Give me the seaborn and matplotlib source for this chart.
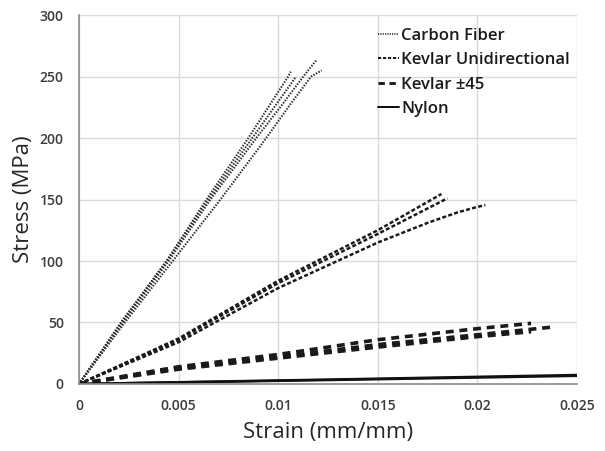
import numpy as np
import pandas as pd
import matplotlib
matplotlib.use("Agg")
import matplotlib.pyplot as plt
from matplotlib.lines import Line2D
import seaborn as sns

# Stress-strain curves (strain mm/mm, stress MPa)
carbon_a_strain = [0, 0.00214, 0.0044, 0.0064, 0.0085, 0.0095, 0.0105, 0.01063]
carbon_a_stress = [0, 50, 100, 150, 200, 225, 250, 254]
carbon_b_strain = [0, 0.0022, 0.0045, 0.0066, 0.0089, 0.0101, 0.01126, 0.0119]
carbon_b_stress = [0, 50, 100, 150, 200, 225, 250, 263]
carbon_c_strain = [0, 0.0023, 0.0047, 0.0071, 0.0094, 0.0105, 0.01165, 0.01218]
carbon_c_stress = [0, 50, 100, 150, 200, 225, 250, 255]
carbon_d_strain = [0, 0.0021, 0.0044, 0.0065, 0.0087, 0.0098, 0.0109]
carbon_d_stress = [0, 50, 100, 150, 200, 225, 250]

kevlar_ud_a_strain = [0, 0.005, 0.01, 0.015, 0.0182]
kevlar_ud_a_stress = [0, 37, 84, 125, 154.5]
kevlar_ud_b_strain = [0, 0.005, 0.01, 0.015, 0.0185]
kevlar_ud_b_stress = [0, 36, 82, 122, 151]
kevlar_ud_c_strain = [0, 0.005, 0.01, 0.015, 0.0175, 0.019, 0.02, 0.0204]
kevlar_ud_c_stress = [0, 34, 78, 115, 131, 139.5, 144, 145.5]

kevlar_45_a_strain = [0, 0.005, 0.01, 0.015, 0.02, 0.0227]
kevlar_45_a_stress = [0, 14, 24, 36, 45, 49.3]
kevlar_45_b_strain = [0, 0.005, 0.01, 0.015, 0.02, 0.0239]
kevlar_45_b_stress = [0, 13, 22, 32, 40, 46.5]
kevlar_45_c_strain = [0, 0.005, 0.01, 0.015, 0.02, 0.0227]
kevlar_45_c_stress = [0, 12, 21, 30, 38.5, 42.5]

nylon_a_strain = [0, 0.0136, 0.026]
nylon_a_stress = [0, 3.9, 7.6]
nylon_b_strain = [0, 0.0136, 0.026]
nylon_b_stress = [0, 3.5, 6.9]

materials = ["Carbon Fiber", "Kevlar Unidirectional", "Kevlar \u00b145", "Nylon"]

curves = [
    ("Carbon Fiber", "c1", carbon_a_strain, carbon_a_stress),
    ("Carbon Fiber", "c2", carbon_b_strain, carbon_b_stress),
    ("Carbon Fiber", "c3", carbon_c_strain, carbon_c_stress),
    ("Carbon Fiber", "c4", carbon_d_strain, carbon_d_stress),
    ("Kevlar Unidirectional", "k1", kevlar_ud_a_strain, kevlar_ud_a_stress),
    ("Kevlar Unidirectional", "k2", kevlar_ud_b_strain, kevlar_ud_b_stress),
    ("Kevlar Unidirectional", "k3", kevlar_ud_c_strain, kevlar_ud_c_stress),
    ("Kevlar \u00b145", "p1", kevlar_45_a_strain, kevlar_45_a_stress),
    ("Kevlar \u00b145", "p2", kevlar_45_b_strain, kevlar_45_b_stress),
    ("Kevlar \u00b145", "p3", kevlar_45_c_strain, kevlar_45_c_stress),
    ("Nylon", "n1", nylon_a_strain, nylon_a_stress),
    ("Nylon", "n2", nylon_b_strain, nylon_b_stress),
]

df = pd.concat(
    [pd.DataFrame({"strain": s, "stress": t, "material": m, "specimen": sp})
     for m, sp, s, t in curves],
    ignore_index=True,
)

styles = {
    "Carbon Fiber": dict(color="#2e2e2e", lw=1.5, dashes=(0.7, 0.7)),
    "Kevlar Unidirectional": dict(color="#1a1a1a", lw=1.8, dashes=(1.6, 0.9)),
    "Kevlar \u00b145": dict(color="#1a1a1a", lw=2.6, dashes=(2.2, 1.6)),
    "Nylon": dict(color="#111111", lw=1.8, dashes=None),
}

sns.set_style("whitegrid")
plt.rcParams["font.family"] = ["Open Sans", "DejaVu Sans"]

fig = plt.figure(figsize=(6.05, 4.51), dpi=100)
ax = fig.add_axes([0.1306, 0.1486, 0.823, 0.818])

for m in materials:
    st = styles[m]
    sub = df[df["material"] == m]
    for sp, g in sub.groupby("specimen"):
        sns.lineplot(data=g, x="strain", y="stress", ax=ax, color=st["color"],
                     lw=st["lw"], estimator=None, legend=False)
        if st["dashes"] is not None:
            ax.lines[-1].set_dashes(st["dashes"])

ax.set_xlim(0, 0.025)
ax.set_ylim(0, 300)
ax.set_xticks([0, 0.005, 0.01, 0.015, 0.02, 0.025])
ax.set_xticklabels(["0", "0.005", "0.01", "0.015", "0.02", "0.025"])
ax.set_yticks(range(0, 301, 50))
ax.grid(True, color="#d9d9d9", lw=1)
for side in ["top", "right"]:
    ax.spines[side].set_visible(False)
for side in ["left", "bottom"]:
    ax.spines[side].set_color("#8c8c8c")
    ax.spines[side].set_linewidth(1.2)
ax.tick_params(axis="both", length=0, labelsize=10, labelcolor="#3c3c3c")
ax.tick_params(axis="y", pad=11)
ax.tick_params(axis="x", pad=11)
for lab in ax.get_xticklabels() + ax.get_yticklabels():
    lab.set_fontweight("semibold")

ax.set_xlabel("Strain (mm/mm)", fontsize=16, color="#262626", labelpad=6,
              fontweight="medium")
ax.set_ylabel("Stress (MPa)", fontsize=16, color="#262626", labelpad=4,
              fontweight="medium")

handles = []
for m in materials:
    st = styles[m]
    h = Line2D([], [], color=st["color"], lw=st["lw"] * 0.8)
    if st["dashes"] is not None:
        h.set_dashes(st["dashes"])
    handles.append(h)
leg = ax.legend(handles, materials, loc="upper left", bbox_to_anchor=(0.6, 0.965),
                frameon=False, fontsize=12, handlelength=1.3, handletextpad=0.1,
                labelspacing=0.5, borderpad=0, borderaxespad=0)
for t in leg.get_texts():
    t.set_fontweight("semibold")
    t.set_color("#1a1a1a")

fig.savefig("out.png", dpi=100)
